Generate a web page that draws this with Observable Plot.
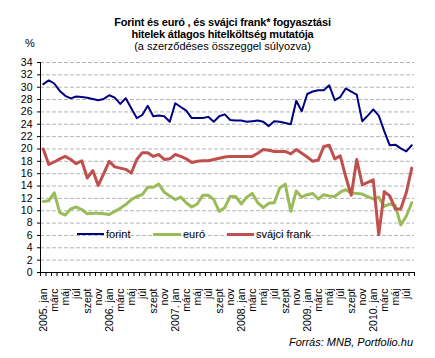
<!DOCTYPE html>
<html><head><meta charset="utf-8">
<script src="https://cdn.jsdelivr.net/npm/d3@7"></script>
<script src="https://cdn.jsdelivr.net/npm/@observablehq/plot@0.6"></script>
<style>
body{margin:0;background:#fff;font-family:"Liberation Sans",Arial,sans-serif;}
#wrap{position:relative;width:435px;height:358px;overflow:hidden;background:#fff}
#chart{position:absolute;left:0;top:0}
.ttl{position:absolute;left:0;width:445px;text-align:center;font-size:11px;line-height:12px;color:#000;white-space:nowrap}
.b{font-weight:bold;letter-spacing:-0.2px}
.lg{position:absolute;font-size:11px;color:#000;white-space:nowrap;line-height:12px}
.sw{position:absolute}
#pct{position:absolute;left:25px;top:37px;font-size:11px}
#src{position:absolute;right:22px;top:336px;font-size:11px;font-style:italic;white-space:nowrap}
</style></head><body>
<div id="wrap">
  <div id="chart"></div>
  <div class="ttl b" style="top:16px">Forint és euró , és svájci frank* fogyasztási</div>
  <div class="ttl b" style="top:28px">hitelek átlagos hitelköltség mutatója</div>
  <div class="ttl" style="top:40px">(a szerződéses összeggel súlyozva)</div>
  <div id="pct">%</div>
  <div id="legend"></div>
  <div id="src">Forrás: MNB, Portfolio.hu</div>
</div>
<script>
const years = ["2005", "2006", "2007", "2008", "2009", "2010"];
const monthNames = ["jan", "febr", "márc", "ápr", "máj", "jún", "júl", "aug", "szept", "okt", "nov", "dec"];
const seriesNames = ["forint", "euró", "svájci frank"];
const seriesColors = ["#000080", "#9BBB59", "#C0504D"];

const forint = [30.5,31.1,30.6,29.4,28.6,28.2,28.5,28.4,28.3,28.1,27.9,28.1,
 28.7,28.3,27.3,28.2,26.6,25.0,25.5,27.0,25.3,25.4,25.3,24.4,
 27.4,26.8,26.2,25.0,25.0,25.0,25.2,24.4,25.3,25.6,24.7,24.6,
 24.6,24.4,24.5,24.6,24.4,23.7,24.5,24.4,24.2,24.0,27.8,26.1,
 28.9,29.3,29.5,29.5,30.3,27.9,28.4,29.8,29.3,28.8,24.5,25.4,
 26.4,25.4,22.9,20.6,20.7,20.1,19.6,20.6];
const euro = [11.5,11.6,12.9,9.7,9.3,10.3,10.6,10.2,9.5,9.6,9.6,9.5,
 9.4,9.9,10.4,11.0,11.8,12.3,12.6,13.8,13.8,14.3,13.0,12.4,
 11.8,12.2,11.3,10.6,11.1,12.5,12.5,11.8,9.9,10.5,12.3,12.3,
 11.1,12.2,12.8,11.3,10.5,11.2,11.3,13.7,14.3,9.9,13.2,12.2,
 12.6,12.8,11.9,12.6,12.4,12.3,13.0,13.4,12.9,12.8,12.7,12.3,
 11.9,12.2,10.7,11.1,10.9,7.7,9.1,11.3];
const franc = [20.0,17.5,17.9,18.4,18.8,18.3,17.6,18.1,15.3,16.5,14.1,16.0,
 18.0,17.1,16.9,16.7,16.1,18.3,19.4,19.4,18.8,19.1,18.3,18.4,
 19.1,18.8,18.4,17.8,18.0,18.1,18.1,18.3,18.5,18.7,18.8,18.8,
 18.8,18.8,18.8,19.3,19.9,19.8,19.6,19.6,19.6,19.2,19.9,19.3,
 18.7,18.0,18.2,20.4,20.6,18.4,18.9,15.5,12.5,18.3,14.2,14.6,
 15.0,6.1,13.1,12.4,10.3,10.3,12.9,16.9];
const yTicks = d3.range(0, 35, 2);

// month labels (every month; only every second one is shown, as in the original)
const labels = forint.map((_, i) => {
  const m = monthNames[i % 12];
  return m === "jan" ? `${years[Math.floor(i / 12)]}. jan` : m;
});
const idx = forint.map((_, i) => i);
const shown = idx.filter(i => i % 2 === 0);
const bounds = d3.range(forint.length + 1).map(i => i - 0.5);
const allSeries = [forint, euro, franc];
const widths = [2, 3, 3];

const chart = Plot.plot({
  width: 435, height: 358,
  marginTop: 62, marginBottom: 86, marginLeft: 40, marginRight: 21,
  style: {fontFamily: "'Liberation Sans', Arial, sans-serif", fontSize: "10.5px", color: "#000", background: "transparent"},
  x: {type: "linear", domain: [-0.5, forint.length - 0.5]},
  y: {domain: [0, 34]},
  marks: [
    Plot.ruleY(yTicks.filter(d => d > 0), {stroke: "#b4b4b4", strokeDasharray: "4,2", strokeWidth: 1}),
    ...allSeries.map((s, k) => Plot.line(s, {x: (d, i) => i, y: d => d, stroke: seriesColors[k], strokeWidth: widths[k], strokeLinejoin: "round"})),
    Plot.axisY({ticks: yTicks, tickSize: 3, tickPadding: 5, label: null, tickFormat: d => String(d), fontSize: 10.5}),
    Plot.axisX({ticks: bounds, tickSize: 4, tickFormat: () => "", label: null}),
    Plot.axisX({ticks: shown, tickSize: 0, tickPadding: 16, tickRotate: -90, tickFormat: i => labels[i], label: null, fontSize: 10.5}),
    Plot.ruleY([0], {stroke: "#000", strokeWidth: 1}),
    Plot.ruleX([-0.5], {stroke: "#000", strokeWidth: 1})
  ]
});
document.getElementById("chart").appendChild(chart);

// legend
const lgPos = [[77, 106], [153, 183], [227, 256]];
const lg = document.getElementById("legend");
seriesNames.forEach((n, k) => {
  const sw = document.createElement("div");
  sw.className = "sw";
  sw.style.left = lgPos[k][0] + "px";
  sw.style.width = (lgPos[k][1] - lgPos[k][0] - 2) + "px";
  sw.style.top = (234 - widths[k] / 2) + "px";
  sw.style.height = widths[k] + "px";
  sw.style.background = seriesColors[k];
  lg.appendChild(sw);
  const t = document.createElement("div");
  t.className = "lg";
  t.style.left = lgPos[k][1] + "px";
  t.style.top = "228px";
  t.textContent = n;
  lg.appendChild(t);
});
</script>
</body></html>
